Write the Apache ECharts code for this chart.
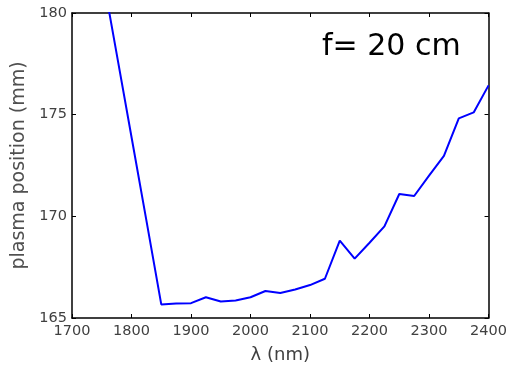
<!DOCTYPE html>
<html><head><meta charset="utf-8">
<script src="https://cdn.jsdelivr.net/npm/echarts@6/dist/echarts.min.js"></script>
<style>html,body{margin:0;padding:0;background:#fff}#c{width:510px;height:369px}</style>
</head><body><div id="c"></div>
<script>
const wavelengths = [1750,1775,1800,1825,1850,1875,1900,1925,1950,1975,2000,2025,2050,2075,2100,2125,2150,2175,2200,2225,2250,2275,2300,2325,2350,2375,2400];
const plasmaPosition = [182.1,178.0,173.9,169.8,165.67,165.71,165.73,166.02,165.81,165.86,166.02,166.33,166.23,166.4,166.62,166.93,168.81,167.92,168.7,169.51,171.1,171.0,172.0,172.97,174.82,175.11,176.44];
const xTicks = [1700,1800,1900,2000,2100,2200,2300,2400];
const yTicks = [165,170,175,180];
const annotation = 'f= 20 cm';
const xName = 'λ (nm)';
const yName = 'plasma position (mm)';

const chart = echarts.init(document.getElementById('c'), null, {renderer:'canvas'});
const font = 'DejaVu Sans';
const lab = {color:'#404040', fontFamily:font, fontSize:14.5, formatter:v=>String(v)};
const line = {show:true, lineStyle:{color:'#000', width:1.5}};
chart.setOption({
  animation:false,
  title:{text:annotation, left:322, top:32, padding:0, textStyle:{fontFamily:font, fontSize:30, fontWeight:'normal', color:'#000'}},
  grid:{left:72, top:13, right:20, bottom:48, containLabel:false},
  xAxis:[{
    type:'value', min:xTicks[0], max:xTicks[xTicks.length-1], interval:100,
    axisLine:line, axisTick:{show:true, inside:true, length:4, lineStyle:{color:'#000'}},
    splitLine:{show:false}, axisLabel:Object.assign({margin:6}, lab),
    name:xName, nameLocation:'middle', nameGap:28,
    nameTextStyle:{fontFamily:font, fontSize:18, color:'#404040'}
  },{
    type:'value', position:'top', min:xTicks[0], max:xTicks[xTicks.length-1], interval:100,
    axisLine:line, axisTick:{show:true, inside:true, length:4, lineStyle:{color:'#000'}},
    splitLine:{show:false}, axisLabel:{show:false}
  }],
  yAxis:[{
    type:'value', min:yTicks[0], max:yTicks[yTicks.length-1], interval:5,
    axisLine:line, axisTick:{show:true, inside:true, length:4, lineStyle:{color:'#000'}},
    splitLine:{show:false}, axisLabel:Object.assign({margin:5}, lab),
    name:yName, nameLocation:'middle', nameGap:40,
    nameTextStyle:{fontFamily:font, fontSize:19, color:'#505050'}
  },{
    type:'value', position:'right', min:yTicks[0], max:yTicks[yTicks.length-1], interval:5,
    axisLine:line, axisTick:{show:true, inside:true, length:4, lineStyle:{color:'#000'}},
    splitLine:{show:false}, axisLabel:{show:false}
  }],
  series:[{
    type:'line', xAxisIndex:0, yAxisIndex:0, clip:true,
    data: wavelengths.map((w,i)=>[w, plasmaPosition[i]]),
    showSymbol:false, symbol:'none',
    lineStyle:{color:'#0000ff', width:2}
  }]
});
</script></body></html>
